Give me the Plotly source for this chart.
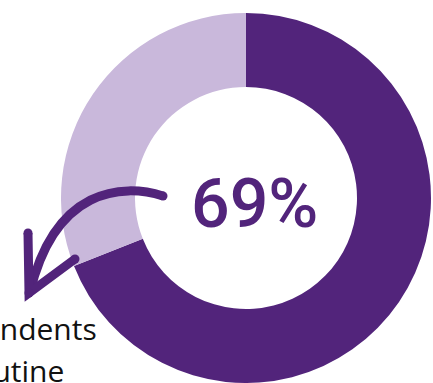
import plotly.graph_objects as go

# Share of respondents
labels = ["Yes", "No"]
values = [69, 31]
colors = ["#52247b", "#c9b8db"]
center_label = "69%"
caption_lines = ["of respondents", "have a daily routine"]

W, H = 433, 383
DARK = "#52247b"

fig = go.Figure()

fig.add_trace(go.Pie(
    labels=labels,
    values=values,
    marker=dict(colors=colors, line=dict(width=0)),
    hole=0.6,
    sort=False,
    direction="clockwise",
    rotation=0,
    textinfo="none",
    hoverinfo="label+percent",
    showlegend=False,
    domain=dict(x=[60 / W, 432 / W], y=[0.0, (H - 13) / H]),
))

# Hand-drawn style curved arrow (pixel coordinates on hidden axes)
lw = 9
fig.add_shape(type="path", xref="x", yref="y",
              path="M163,196 C 122,183 55,188 30,292",
              line=dict(color=DARK, width=lw))
fig.add_shape(type="path", xref="x", yref="y",
              path="M28,233 L29,293 L75,259",
              line=dict(color=DARK, width=lw))
for cx, cy in [(163, 196), (28, 233), (75, 259), (29, 293)]:
    r = lw / 2
    fig.add_shape(type="circle", xref="x", yref="y",
                  x0=cx - r, x1=cx + r, y0=cy - r, y1=cy + r,
                  fillcolor=DARK, line=dict(width=0))

fig.add_annotation(x=254, y=204, xref="x", yref="y", text=center_label,
                   showarrow=False, xanchor="center", yanchor="middle",
                   font=dict(family="Roboto", size=68, color=DARK, weight=500))

fig.add_annotation(x=99, y=328, xref="x", yref="y", text=caption_lines[0],
                   showarrow=False, xanchor="right", yanchor="middle",
                   font=dict(family="Open Sans", size=30, color="#111111"))
fig.add_annotation(x=66, y=370, xref="x", yref="y", text=caption_lines[1],
                   showarrow=False, xanchor="right", yanchor="middle",
                   font=dict(family="Open Sans", size=30, color="#111111"))

fig.update_layout(
    width=W, height=H,
    margin=dict(l=0, r=0, t=0, b=0),
    paper_bgcolor="white", plot_bgcolor="rgba(0,0,0,0)",
    xaxis=dict(range=[0, W], visible=False, fixedrange=True),
    yaxis=dict(range=[H, 0], visible=False, fixedrange=True),
)

fig.write_html("out.html")
